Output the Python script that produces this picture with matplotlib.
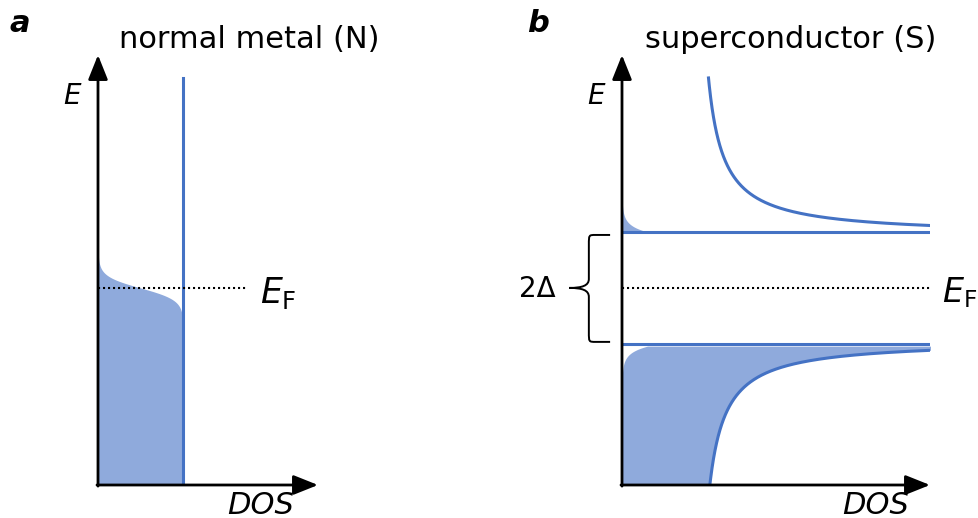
import numpy as np
import matplotlib
matplotlib.use("Agg")
import matplotlib.pyplot as plt
from matplotlib.path import Path
from matplotlib.patches import PathPatch

plt.rcParams['mathtext.fontset'] = 'dejavusans'

# schematic parameters (energies in units of the gap, DOS in units of the normal DOS)
gap_edge = 1.0        # gap edge lines in panel b
dos_a, dos_b, dos_c = 0.84, 0.935, 0.50   # DOS(E) = a + c / (|E| - b) above the gap
kT_metal = 0.107      # smearing of the Fermi edge in panel a
qp_width, qp_decay = 0.30, 0.12   # thermal quasiparticles / holes at the gap edge
n_normal = 1.0        # normal-metal DOS
e_bottom, e_top, e_curve_top = -3.52, 4.16, 3.75
dos_end = 3.65        # right end of the lines in panel b
ef_line_end_a = 1.76

line_col = '#4472C4'
fill_col = '#8FAADC'

W, H = 979, 518
px_x = 85.0   # pixels per DOS unit

fig = plt.figure(figsize=(W / 100, H / 100), dpi=100)


def panel(x0, x_tip):
    ax = fig.add_axes([x0 / W, (H - 485) / H, (x_tip - x0) / W, (485 - 55) / H])
    xt = (x_tip - x0) / px_x
    ax.set_xlim(0, xt)
    ax.set_ylim(e_bottom, e_top)
    ax.axis('off')
    arr = dict(arrowstyle='-|>,head_length=0.75,head_width=0.3', lw=2, color='k',
               shrinkA=0, shrinkB=0, mutation_scale=20)
    ax.annotate('', xy=(0, e_top), xytext=(0, e_bottom - 0.02), arrowprops=arr,
                annotation_clip=False, zorder=5)
    ax.annotate('', xy=(xt, e_bottom), xytext=(-0.012, e_bottom), arrowprops=arr,
                annotation_clip=False, zorder=5)
    return ax


def fermi(e, kt):
    return 1.0 / (1.0 + np.exp(e / kt))


def dos_sc(e):
    return dos_a + dos_c / (np.abs(e) - dos_b)


def qp(e, e0):
    return qp_width * np.exp(-(np.abs(e) - e0) / qp_decay)


# ---- panel a: normal metal
axa = panel(98, 318)
e = np.linspace(e_bottom, 1.0, 600)
axa.fill_betweenx(e, 0, n_normal * fermi(e, kT_metal), color=fill_col, lw=0, zorder=1)
axa.plot([n_normal, n_normal], [e_bottom, e_curve_top], color=line_col, lw=2.2, zorder=2)
axa.plot([0, ef_line_end_a], [0, 0], color='k', lw=1.5, ls=(0, (1, 1.4)), zorder=3)

# ---- panel b: superconductor
axb = panel(622, 930)
# thermal electrons above the gap
et = np.linspace(gap_edge, 2.0, 400)
axb.fill_betweenx(et, 0, qp(et, gap_edge), color=fill_col, lw=0, zorder=1)
# occupied states below the gap (holes near the axis)
eb = np.linspace(e_bottom, -gap_edge - 0.04, 800)
right = np.minimum(np.where(np.abs(eb) > dos_b, dos_sc(eb), np.inf), dos_end)
axb.fill_betweenx(eb, qp(eb, gap_edge + 0.04), right, color=fill_col, lw=0, zorder=1)

# DOS curves above and below the gap
ec = np.linspace(dos_b + 0.05, e_curve_top, 1200)
nc = dos_sc(ec)
k = nc <= dos_end
axb.plot(nc[k], ec[k], color=line_col, lw=2.2, zorder=2)
ec2 = np.linspace(dos_b + 0.05, -e_bottom, 1200)
nc2 = dos_sc(ec2)
k2 = nc2 <= dos_end
axb.plot(nc2[k2], -ec2[k2], color=line_col, lw=2.2, zorder=2)
axb.plot([0, dos_end], [gap_edge, gap_edge], color=line_col, lw=2.2, zorder=2)
axb.plot([0, dos_end], [-gap_edge, -gap_edge], color=line_col, lw=2.2, zorder=2)
axb.plot([0, dos_end], [0, 0], color='k', lw=1.5, ls=(0, (1, 1.4)), zorder=3)

# curly brace for the gap
xr, xv, xtip = -0.14, -0.39, -0.62
yt, yb = 0.946, -0.964
verts = [(xr, yt), (xv + 0.08, yt),
         (xv, yt), (xv, yt), (xv, yt - 0.17),
         (xv, 0.16),
         (xv, 0.04), (xv - 0.08, 0.0), (xtip, 0.0),
         (xv - 0.08, 0.0), (xv, -0.04), (xv, -0.16),
         (xv, yb + 0.17),
         (xv, yb), (xv, yb), (xv + 0.08, yb),
         (xr, yb)]
codes = [Path.MOVETO, Path.LINETO,
         Path.CURVE4, Path.CURVE4, Path.CURVE4,
         Path.LINETO,
         Path.CURVE4, Path.CURVE4, Path.CURVE4,
         Path.CURVE4, Path.CURVE4, Path.CURVE4,
         Path.LINETO,
         Path.CURVE4, Path.CURVE4, Path.CURVE4,
         Path.LINETO]
axb.add_patch(PathPatch(Path(verts, codes), fc='none', ec='k', lw=1.4, clip_on=False))


# ---- text
def t(x, y, s, **kw):
    fig.text(x / W, 1 - y / H, s, va='center', **kw)


t(20, 24, 'a', fontsize=22, fontweight='bold', fontstyle='italic', ha='center')
t(538, 24, 'b', fontsize=22, fontweight='bold', fontstyle='italic', ha='center')
t(249, 40, 'normal metal (N)', fontsize=22, ha='center')
t(791, 40, 'superconductor (S)', fontsize=22, ha='center')
t(72, 96, 'E', fontsize=20, fontstyle='italic', ha='center')
t(596, 96, 'E', fontsize=20, fontstyle='italic', ha='center')
t(261, 505, 'DOS', fontsize=22, fontstyle='italic', ha='center')
t(876, 505, 'DOS', fontsize=22, fontstyle='italic', ha='center')
t(260, 293, r'$E_{\mathrm{F}}$', fontsize=25, ha='left')
t(977, 293, r'$E_{\mathrm{F}}$', fontsize=24, ha='right')
t(537, 289, '2Δ', fontsize=20, ha='center')

fig.savefig('out.png', dpi=100)
